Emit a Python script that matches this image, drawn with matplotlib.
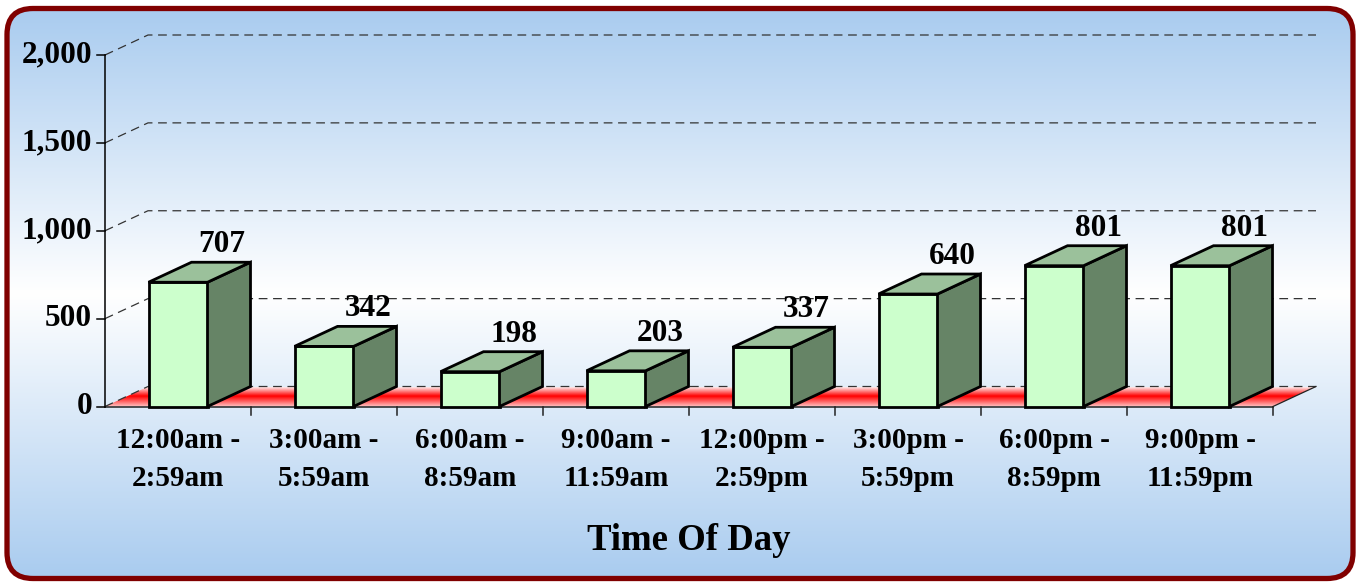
import numpy as np
import matplotlib
import matplotlib.pyplot as plt
from matplotlib.patches import FancyBboxPatch, Polygon, Rectangle
from matplotlib.colors import to_rgb

matplotlib.use("Agg")

# data
categories = [
    "12:00am -\n2:59am", "3:00am -\n5:59am", "6:00am -\n8:59am", "9:00am -\n11:59am",
    "12:00pm -\n2:59pm", "3:00pm -\n5:59pm", "6:00pm -\n8:59pm", "9:00pm -\n11:59pm",
]
counts = [707, 342, 198, 203, 337, 640, 801, 801]
y_ticks = [0, 500, 1000, 1500, 2000]
y_tick_labels = ["0", "500", "1,000", "1,500", "2,000"]
x_title = "Time Of Day"

# layout (pixels)
W, H = 1359, 584
X0, PX_CAT = 105.0, 146.0          # px of category 0 edge, px per category
Y0, PX_VAL = 406.5, 0.17575        # px of value 0, px per unit
DX, DY = 43 / PX_CAT, 20 / PX_VAL  # 3d depth offset in data units
BAR_W = 59 / PX_CAT

FONT = "Liberation Serif"
FRONT, SIDE, TOP = "#CCFFCC", "#668466", "#9BC19B"
GRID = "#333333"

fig = plt.figure(figsize=(W / 100, H / 100), dpi=100)
ax = fig.add_axes([0, 0, 1, 1])
ax.axis("off")
xlim = (-X0 / PX_CAT, (W - X0) / PX_CAT)
ylim = ((Y0 - H) / PX_VAL, Y0 / PX_VAL)

# ── background panel with vertical gradient ─────────────────────────────────
border = FancyBboxPatch(
    (0.07, 0.055), 13.46, 5.70,
    boxstyle="round,pad=0,rounding_size=0.26",
    transform=fig.dpi_scale_trans, fc="none", ec="#800000", lw=3.8, zorder=20,
)
fig.add_artist(border)

blue = np.array(to_rgb("#A8CBEF"))
rows = np.arange(H)
d = np.clip(np.abs(rows - 293) / 287, 0, 1)[:, None]
grad = (1 - d) * np.ones(3) + d * blue
bg = ax.imshow(grad[:, None, :], extent=(*xlim, *ylim), aspect="auto",
               origin="upper", zorder=0, interpolation="bilinear")
bg.set_clip_path(border)

# ── floor ───────────────────────────────────────────────────────────────────
n = len(categories)
floor_pts = [(0, 0), (n, 0), (n + DX, DY), (DX, DY)]
floor = Polygon(floor_pts, closed=True, fc="none", ec="none")
ax.add_patch(floor)
stops_t = [0.0, 0.45, 1.0]
stops_c = np.array([[255, 232, 232], [255, 0, 0], [255, 200, 200]]) / 255
t = np.linspace(0, 1, 60)
fgrad = np.stack([np.interp(t, stops_t, stops_c[:, k]) for k in range(3)], axis=1)
fl = ax.imshow(fgrad[:, None, :], extent=(0, n + DX, 0, DY), aspect="auto",
               origin="upper", zorder=1, interpolation="bilinear")
fl.set_clip_path(floor)

# ── back wall grid lines ────────────────────────────────────────────────────
for v in y_ticks:
    ax.plot([0, DX, n + DX], [v, v + DY, v + DY], color=GRID, lw=0.9,
            ls=(0, (7, 4.5)), zorder=2)

# axes lines and ticks
tick_x = 8 / PX_CAT
tick_y = 8 / PX_VAL
ax.plot([0, 0], [0, y_ticks[-1]], color="black", lw=1.1, zorder=3)
ax.plot([0, n], [0, 0], color="#222222", lw=1.1, zorder=3)
ax.plot([n, n + DX], [0, DY], color="#222222", lw=0.9, zorder=3)
for v, lab in zip(y_ticks, y_tick_labels):
    ax.plot([-tick_x, 0], [v, v], color="black", lw=1.1, zorder=3)
    ax.text(-13 / PX_CAT, v, lab, ha="right", va="center", fontsize=22.5,
            fontweight="bold", family=FONT, zorder=5)
for i in range(1, n + 1):
    ax.plot([i, i], [0, -tick_y], color="#222222", lw=1.1, zorder=3)

# ── bars ────────────────────────────────────────────────────────────────────
for i, (cat, v) in enumerate(zip(categories, counts)):
    x0 = i + 0.5 - BAR_W / 2
    x1 = x0 + BAR_W
    kw = dict(ec="black", lw=2.0, joinstyle="miter", zorder=4)
    ax.add_patch(Rectangle((x0, 0), BAR_W, v, fc=FRONT, **kw))
    ax.add_patch(Polygon([(x1, 0), (x1 + DX, DY), (x1 + DX, v + DY), (x1, v)], fc=SIDE, **kw))
    ax.add_patch(Polygon([(x0, v), (x1, v), (x1 + DX, v + DY), (x0 + DX, v + DY)], fc=TOP, **kw))
    ax.text(i + 0.5 + 44 / PX_CAT, v + 30 / PX_VAL, f"{v:,}", ha="center", va="baseline",
            fontsize=22.5, fontweight="bold", family=FONT, zorder=5)
    ax.text(i + 0.5, (Y0 - 427) / PX_VAL, cat, ha="center", va="top", fontsize=21,
            fontweight="bold", family=FONT, linespacing=1.5, zorder=5)

ax.text(n / 2, (Y0 - 550) / PX_VAL, x_title, ha="center", va="baseline",
        fontsize=26.5, fontweight="bold", family=FONT, zorder=5)

ax.set_xlim(*xlim)
ax.set_ylim(*ylim)

fig.savefig("out.png", dpi=100, facecolor="white")
